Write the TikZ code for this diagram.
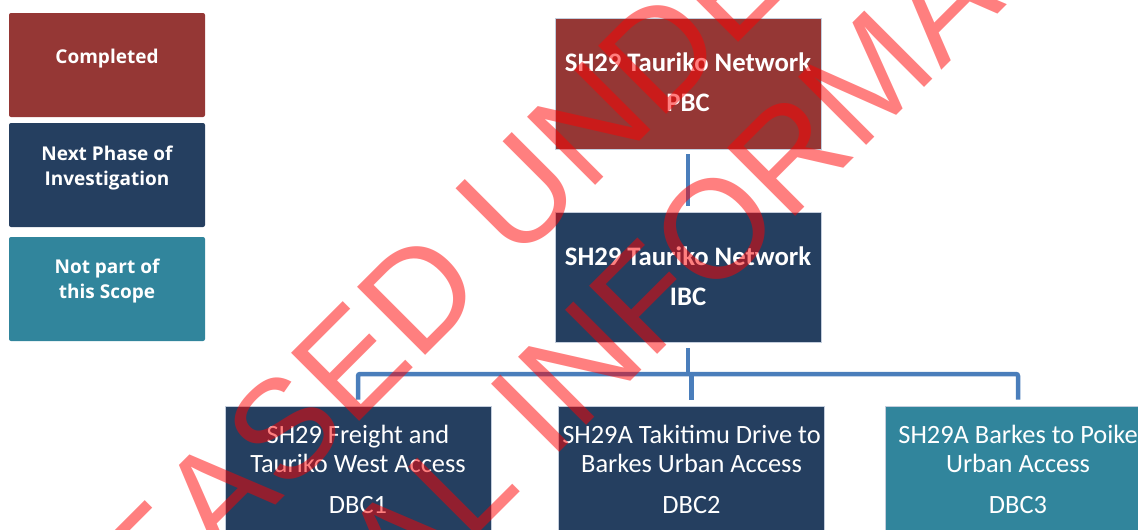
\documentclass[tikz,border=0pt]{standalone}
\usepackage{fontspec}
\setmainfont{Carlito}
\newfontfamily\legfont{Open Sans}
\newfontfamily\wmfont{Liberation Sans}
\definecolor{cRed}{RGB}{149,55,53}
\definecolor{cNavy}{RGB}{37,63,96}
\definecolor{cTeal}{RGB}{49,133,156}
\definecolor{cLine}{RGB}{74,126,187}
\definecolor{cEdge}{RGB}{195,205,220}
\begin{document}
\begin{tikzpicture}[x=1pt,y=-1pt,
  legbox/.style={rectangle, rounded corners=2pt, minimum width=196pt, minimum height=104pt, inner sep=0pt},
  mainbox/.style={rectangle, draw=cEdge, line width=0.6pt, minimum width=266pt, minimum height=130pt, inner sep=0pt},
  legtext/.style={text=white, font=\legfont\bfseries\fontsize{19}{25}\selectfont, anchor=base, inner sep=0pt},
  bigtext/.style={text=white, font=\bfseries\fontsize{26.7}{32}\selectfont, anchor=base, inner sep=0pt},
  subtext/.style={text=white, font=\fontsize{26.4}{29}\selectfont, anchor=base, inner sep=0pt},
  conn/.style={draw=cLine, line width=4.5pt},
  wm/.style={text=red, text opacity=0.5, font=\wmfont\fontsize{140}{160}\selectfont, rotate=45, anchor=base west, inner sep=0pt}]
\useasboundingbox (0,0) rectangle (1138,530);
\clip (0,0) rectangle (1138,530);

% legend
\node[legbox, fill=cRed] (lg1) at (107,65) {};
\node[legtext] (lg1t) at (107,63.3) {Completed};
\node[legbox, fill=cNavy] (lg2) at (107,175) {};
\node[legtext] (lg2a) at (107,160) {Next Phase of};
\node[legtext] (lg2b) at (107,185) {Investigation};
\node[legbox, fill=cTeal] (lg3) at (107,289) {};
\node[legtext] (lg3a) at (107,273) {Not part of};
\node[legtext] (lg3b) at (107,298) {this Scope};

% main boxes
\node[mainbox, fill=cRed, minimum height=131pt] (pbc) at (688,83.5) {};
\node[bigtext] (pbca) at (688,71) {SH29 Tauriko Network};
\node[bigtext] (pbcb) at (688,111.7) {PBC};
\node[mainbox, fill=cNavy] (ibc) at (688,277) {};
\node[bigtext] (ibca) at (688,265) {SH29 Tauriko Network};
\node[bigtext] (ibcb) at (688,305) {IBC};

\node[mainbox, fill=cNavy] (dbc1) at (358,471) {};
\node[subtext] (d1a) at (358,443) {SH29 Freight and};
\node[subtext] (d1b) at (358,472) {Tauriko West Access};
\node[subtext] (d1c) at (358,513) {DBC1};
\node[mainbox, fill=cNavy] (dbc2) at (691.5,471) {};
\node[subtext] (d2a) at (691.5,443) {SH29A Takitimu Drive to};
\node[subtext] (d2b) at (691.5,472) {Barkes Urban Access};
\node[subtext] (d2c) at (691.5,513) {DBC2};
\node[mainbox, fill=cTeal] (dbc3) at (1018,471) {};
\node[subtext] (d3a) at (1018,443) {SH29A Barkes to Poike};
\node[subtext] (d3b) at (1018,472) {Urban Access};
\node[subtext] (d3c) at (1018,513) {DBC3};

% connectors
\coordinate (bus) at (688,374);
\draw[conn, shorten <=5pt, shorten >=6pt] (pbc.south) -- (ibc.north);
\draw[conn, shorten <=6pt] (ibc.south) -- (ibc.south |- bus);
\draw[conn, rounded corners=2pt, shorten <=6pt, shorten >=6pt] (dbc1.north) |- (bus) -| (dbc3.north);
\draw[conn, shorten >=6pt] (dbc2.north |- bus) -- (dbc2.north);

% watermark
\node[wm] (wm1) at (417,364) {\llap{RELEASE}D UNDER THE};
\node[wm] (wm2) at (710,302) {\llap{OFFICIAL INF}ORMATION ACT};
\end{tikzpicture}
\end{document}
